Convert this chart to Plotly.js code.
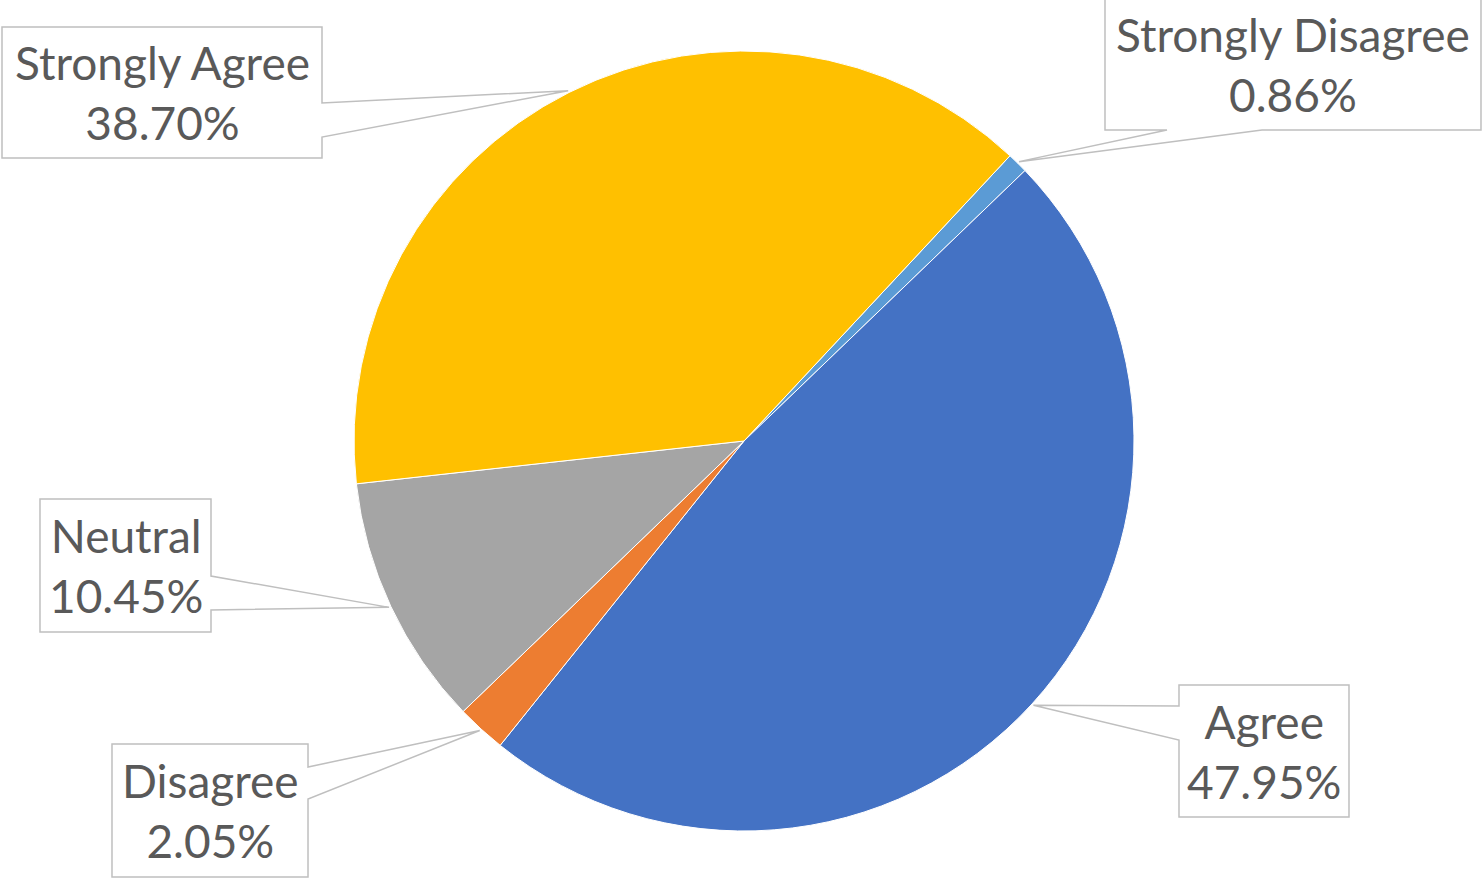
<!DOCTYPE html>
<html>
<head>
<meta charset="utf-8">
<script src="https://cdn.plot.ly/plotly-3.0.1.min.js"></script>
<style>
  html, body { margin: 0; padding: 0; background: #ffffff; }
  #chart { width: 1483px; height: 879px; }
</style>
</head>
<body>
<div id="chart"></div>
<script>
// ---- Data ----
const categories = ['Strongly Disagree', 'Agree', 'Disagree', 'Neutral', 'Strongly Agree'];
const values = [0.86, 47.95, 2.05, 10.45, 38.70];
const valueLabels = ['0.86%', '47.95%', '2.05%', '10.45%', '38.70%'];
const sliceColors = ['#5B9BD5', '#4472C4', '#ED7D31', '#A5A5A5', '#FFC000'];

// ---- Layout constants (pixels) ----
const W = 1483, H = 879;
const CX = 744, CY = 441, R = 390;
const ROTATION = 43;

// Callout boxes: box edges, side where the pointer attaches, and attach span
const callouts = [
  { x0: 1105, y0: -1, x1: 1481, y1: 130, side: 'bottom', a0: 1167, a1: 1262 },
  { x0: 1179, y0: 685, x1: 1349, y1: 817, side: 'left', a0: 706, a1: 740 },
  { x0: 112, y0: 744, x1: 308, y1: 877, side: 'right', a0: 767, a1: 799 },
  { x0: 40, y0: 499, x1: 211, y1: 632, side: 'right', a0: 576, a1: 610 },
  { x0: 2, y0: 27, x1: 322, y1: 158, side: 'right', a0: 103, a1: 137 }
];

const px = x => x / W;
const py = y => 1 - y / H;
const P = (x, y) => px(x).toFixed(5) + ',' + py(y).toFixed(5);

const total = values.reduce((a, b) => a + b, 0);
let cum = 0;
const shapes = [];
const annotations = [];
values.forEach((v, i) => {
  const mid = (ROTATION + (cum + v / 2) / total * 360) * Math.PI / 180;
  cum += v;
  const tx = CX + (R + 2) * Math.sin(mid);
  const ty = CY - (R + 2) * Math.cos(mid);
  const c = callouts[i];
  let path;
  if (c.side === 'right') {
    path = 'M' + P(c.x0, c.y0) + ' L' + P(c.x1, c.y0) + ' L' + P(c.x1, c.a0) + ' L' + P(tx, ty) +
           ' L' + P(c.x1, c.a1) + ' L' + P(c.x1, c.y1) + ' L' + P(c.x0, c.y1) + ' Z';
  } else if (c.side === 'left') {
    path = 'M' + P(c.x0, c.y0) + ' L' + P(c.x1, c.y0) + ' L' + P(c.x1, c.y1) + ' L' + P(c.x0, c.y1) +
           ' L' + P(c.x0, c.a1) + ' L' + P(tx, ty) + ' L' + P(c.x0, c.a0) + ' Z';
  } else {
    path = 'M' + P(c.x0, c.y0) + ' L' + P(c.x1, c.y0) + ' L' + P(c.x1, c.y1) + ' L' + P(c.a1, c.y1) +
           ' L' + P(tx, ty) + ' L' + P(c.a0, c.y1) + ' L' + P(c.x0, c.y1) + ' Z';
  }
  shapes.push({
    type: 'path', path: path, xref: 'paper', yref: 'paper',
    line: { color: '#BFBFBF', width: 1.5 }, fillcolor: 'rgba(255,255,255,0)', layer: 'above'
  });
  annotations.push({
    xref: 'paper', yref: 'paper',
    x: px((c.x0 + c.x1) / 2), y: py((c.y0 + c.y1) / 2),
    xanchor: 'center', yanchor: 'middle',
    text: categories[i] + '<br>' + valueLabels[i],
    showarrow: false, align: 'center',
    font: { family: 'Lato, "Open Sans", sans-serif', size: 46, color: '#595959' }
  });
});

const trace = {
  type: 'pie',
  labels: categories,
  values: values,
  sort: false,
  direction: 'clockwise',
  rotation: ROTATION,
  textinfo: 'none',
  hoverinfo: 'label+percent',
  marker: { colors: sliceColors, line: { color: '#ffffff', width: 1 } },
  domain: {
    x: [(CX - R) / W, (CX + R) / W],
    y: [(H - CY - R) / H, (H - CY + R) / H]
  }
};

const layout = {
  width: W, height: H,
  margin: { l: 0, r: 0, t: 0, b: 0 },
  paper_bgcolor: '#ffffff',
  plot_bgcolor: '#ffffff',
  showlegend: false,
  shapes: shapes,
  annotations: annotations
};

Plotly.newPlot('chart', [trace], layout, { displayModeBar: false, staticPlot: true });
</script>
</body>
</html>
